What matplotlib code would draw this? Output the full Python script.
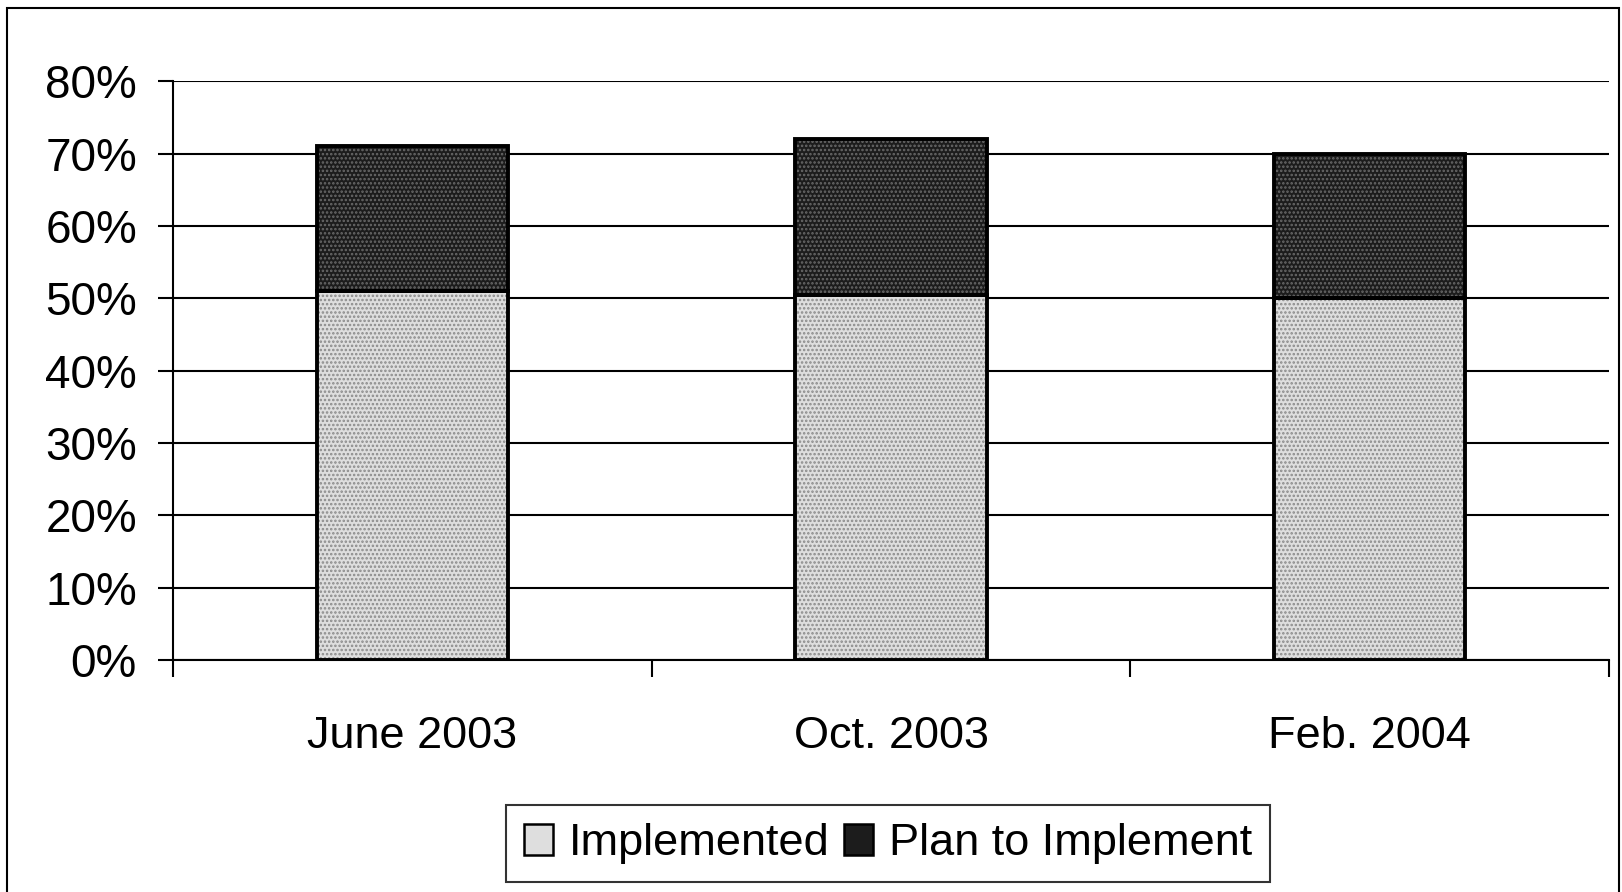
import matplotlib
matplotlib.use('agg')
import matplotlib.pyplot as plt
from matplotlib.patches import Patch, Rectangle
import numpy as np

periods = ["June 2003", "Oct. 2003", "Feb. 2004"]
implemented = [51, 50.5, 50]
plan_to_implement = [20, 21.5, 20]
yticks = [0, 10, 20, 30, 40, 50, 60, 70, 80]

plt.rcParams['font.family'] = ['Liberation Sans', 'DejaVu Sans']
plt.rcParams['hatch.linewidth'] = 1.2

fig = plt.figure(figsize=(16.22, 8.92), dpi=100)
ax = fig.add_axes([0.1067, 0.260, 0.8853, 0.649])

x = np.arange(len(periods))
w = 0.40
light = "#dedede"
dark = "#1c1c1c"

# textured fills first, black outlines on top
ax.bar(x, implemented, w, color=light, edgecolor="#8a8a8a", hatch="....",
       linewidth=0, zorder=3)
ax.bar(x, plan_to_implement, w, bottom=implemented, color=dark,
       edgecolor="#6a6a6a", hatch="....", linewidth=0, zorder=3)
ax.bar(x, implemented, w, fill=False, edgecolor="black", linewidth=2.8, zorder=4)
ax.bar(x, plan_to_implement, w, bottom=implemented, fill=False,
       edgecolor="black", linewidth=2.8, zorder=4)

ax.set_xlim(-0.5, len(periods) - 0.5)
ax.set_ylim(0, 80)
ax.set_yticks(yticks)
ax.set_yticklabels([f"{t}%" for t in yticks])
ax.yaxis.grid(True, color="black", linewidth=1.5)
ax.set_axisbelow(True)

ax.set_xticks(x)
ax.set_xticklabels(periods)
ax.set_xticks(np.arange(len(periods) + 1) - 0.5, minor=True)
ax.tick_params(axis='x', which='major', length=0, pad=40, labelsize=32.5)
ax.tick_params(axis='x', which='minor', length=12, width=1.5, direction='out')
ax.tick_params(axis='y', length=11, width=1.5, pad=15, labelsize=33)

for s in ["top", "right"]:
    ax.spines[s].set_visible(False)
ax.spines["left"].set_linewidth(1.5)
ax.spines["bottom"].set_linewidth(1.5)

handles = [Patch(facecolor=light, edgecolor="black", linewidth=1.8),
           Patch(facecolor=dark, edgecolor="black", linewidth=1.8)]
leg = fig.legend(handles, ["Implemented", "Plan to Implement"], loc="center",
                 bbox_to_anchor=(0.5475, 0.054), ncol=2, fontsize=32.5,
                 frameon=True, fancybox=False, shadow=False,
                 handlelength=0.65, handleheight=0.65, handletextpad=0.35,
                 columnspacing=0.3, borderpad=0.4, borderaxespad=0)
leg.get_frame().set_edgecolor("black")
leg.get_frame().set_linewidth(1.5)

# outer frame of the picture
fig.patches.append(Rectangle((7 / 1622, -0.05), 1 - 10 / 1622, 1.05 - 8 / 892,
                             transform=fig.transFigure, fill=False,
                             edgecolor="black", linewidth=1.5))

fig.savefig("out.png", dpi=100)
